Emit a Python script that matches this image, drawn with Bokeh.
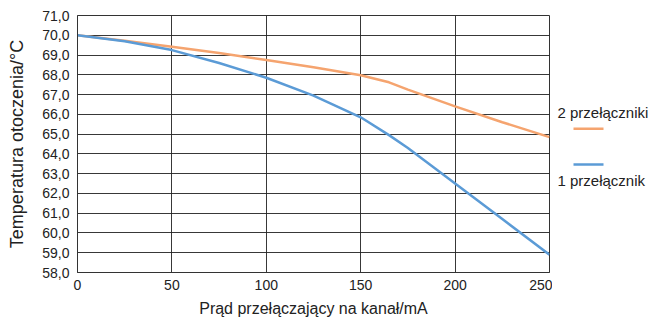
from bokeh.plotting import figure
from bokeh.layouts import row
from bokeh.models import FixedTicker, Range1d
from bokeh.core.properties import value
from bokeh.embed import file_html
from bokeh.resources import INLINE

current_ma = [0, 25, 50, 75, 100, 125, 150, 165, 175, 200, 225, 250]
two_switches = [70.0, 69.72, 69.42, 69.1, 68.75, 68.38, 67.98, 67.62, 67.25, 66.4, 65.6, 64.85]
one_switch = [70.0, 69.7, 69.25, 68.6, 67.85, 66.95, 65.85, 64.95, 64.3, 62.5, 60.7, 58.9]

x_ticks = [0, 50, 100, 150, 200, 250]
y_ticks = [58, 59, 60, 61, 62, 63, 64, 65, 66, 67, 68, 69, 70, 71]
y_tick_labels = ["58,0", "59,0", "60,0", "61,0", "62,0", "63,0", "64,0", "65,0",
                 "66,0", "67,0", "68,0", "69,0", "70,0", "71,0"]

series_labels = ["2 przełączniki", "1 przełącznik"]
x_title = "Prąd przełączający na kanał/mA"
y_title = "Temperatura otoczenia/°C"

ORANGE = "#F5A46F"
BLUE = "#5B9BD6"
TEXT = "#222222"
FONT = "Liberation Sans"

p = figure(width=552, height=321, output_backend="svg", toolbar_location=None,
           x_range=Range1d(0, 250), y_range=Range1d(58, 71),
           min_border_left=77, min_border_right=3, min_border_top=15, min_border_bottom=49)
p.background_fill_color = "white"
p.border_fill_color = "white"
p.outline_line_color = "#333333"
p.outline_line_width = 1

p.xaxis.ticker = FixedTicker(ticks=x_ticks)
p.yaxis.ticker = FixedTicker(ticks=y_ticks)
p.yaxis.major_label_overrides = {t: l for t, l in zip(y_ticks, y_tick_labels)}
for ax in (p.xaxis, p.yaxis):
    ax.major_tick_out = 0
    ax.major_tick_in = 0
    ax.minor_tick_out = 0
    ax.minor_tick_in = 0
    ax.axis_line_color = "#333333"
    ax.major_label_text_font = FONT
    ax.major_label_text_font_size = "14px"
    ax.major_label_text_color = TEXT
    ax.axis_label_text_font = FONT
    ax.axis_label_text_font_style = "normal"
    ax.axis_label_text_color = TEXT
p.xaxis.axis_label_text_font_size = "16px"
p.yaxis.axis_label_text_font_size = "18px"
p.xaxis.axis_label = x_title
p.yaxis.axis_label = y_title
p.xaxis.major_label_standoff = 7
p.xaxis.axis_label_standoff = 7
p.yaxis.major_label_standoff = 8
p.yaxis.axis_label_standoff = 12

p.xgrid.grid_line_color = "#222222"
p.ygrid.grid_line_color = "#222222"
p.xgrid.grid_line_alpha = 0.9
p.ygrid.grid_line_alpha = 0.9

p.line(current_ma, two_switches, line_color=ORANGE, line_width=2.5)
p.line(current_ma, one_switch, line_color=BLUE, line_width=2.5)

# side legend panel (screen-pixel coordinates)
lg = figure(width=100, height=321, output_backend="svg", toolbar_location=None,
            x_range=Range1d(552, 652), y_range=Range1d(321, 0),
            min_border_left=0, min_border_right=0, min_border_top=0, min_border_bottom=0)
lg.axis.visible = False
lg.grid.visible = False
lg.outline_line_color = None
lg.background_fill_color = "white"
lg.border_fill_color = "white"

lg.text(x=[557, 557], y=[121, 206], text=series_labels, text_font=value(FONT),
        text_font_size="15px", text_color=TEXT, text_baseline="middle")
lg.segment(x0=[573, 573], y0=[141.5, 186], x1=[603, 603], y1=[141.5, 186],
           line_color=[ORANGE, BLUE], line_width=2.5)

layout = row(p, lg)
open("out.html", "w").write(file_html(layout, INLINE))
